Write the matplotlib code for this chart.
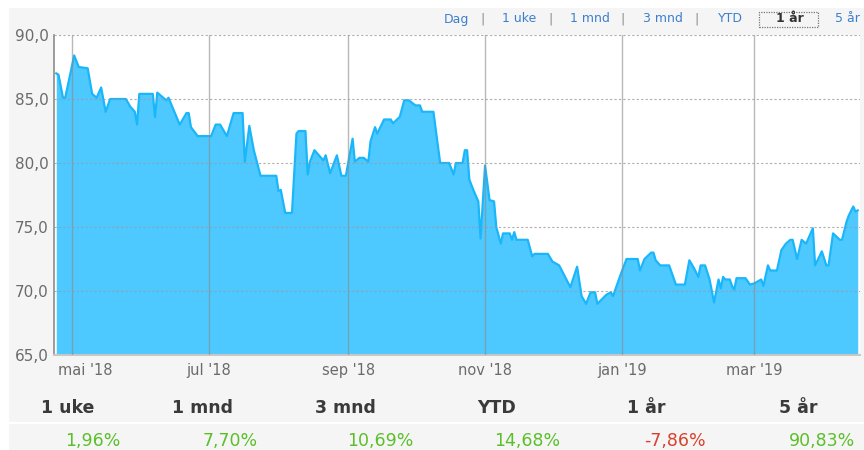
import matplotlib
matplotlib.use("Agg")
import matplotlib.pyplot as plt
import matplotlib.patches as mpatches
import matplotlib.transforms as mtransforms
import pandas as pd

# kurs, siste år (lest av bildet)
dates = [
    "2018-04-24", "2018-04-25", "2018-04-27", "2018-04-28",
    "2018-05-02", "2018-05-04", "2018-05-08", "2018-05-10", "2018-05-12", "2018-05-14",
    "2018-05-16", "2018-05-18", "2018-05-25", "2018-05-27", "2018-05-29", "2018-05-30",
    "2018-05-31",
    "2018-06-06", "2018-06-07", "2018-06-08", "2018-06-12", "2018-06-13", "2018-06-18",
    "2018-06-21", "2018-06-22", "2018-06-23", "2018-06-26",
    "2018-07-02", "2018-07-04", "2018-07-06", "2018-07-09", "2018-07-12", "2018-07-16",
    "2018-07-17", "2018-07-19", "2018-07-21", "2018-07-24", "2018-07-31",
    "2018-08-01", "2018-08-02", "2018-08-04", "2018-08-07", "2018-08-09", "2018-08-10",
    "2018-08-13", "2018-08-14", "2018-08-15", "2018-08-17", "2018-08-20", "2018-08-21",
    "2018-08-22", "2018-08-24", "2018-08-27", "2018-08-29", "2018-08-31",
    "2018-09-03", "2018-09-04", "2018-09-06", "2018-09-08", "2018-09-10", "2018-09-11",
    "2018-09-13", "2018-09-14", "2018-09-17", "2018-09-20", "2018-09-21", "2018-09-24",
    "2018-09-26", "2018-09-28",
    "2018-10-01", "2018-10-03", "2018-10-04", "2018-10-09", "2018-10-12", "2018-10-16",
    "2018-10-18", "2018-10-19", "2018-10-22", "2018-10-23", "2018-10-24", "2018-10-25",
    "2018-10-27", "2018-10-29", "2018-10-30",
    "2018-11-01", "2018-11-03", "2018-11-05", "2018-11-06", "2018-11-08", "2018-11-09",
    "2018-11-12", "2018-11-13", "2018-11-14", "2018-11-15", "2018-11-20", "2018-11-22",
    "2018-11-23", "2018-11-29",
    "2018-12-01", "2018-12-04", "2018-12-09", "2018-12-12", "2018-12-14", "2018-12-16",
    "2018-12-18", "2018-12-20", "2018-12-21", "2018-12-25", "2018-12-27", "2018-12-28",
    "2018-12-31",
    "2019-01-03", "2019-01-08", "2019-01-09", "2019-01-11", "2019-01-14", "2019-01-15",
    "2019-01-16", "2019-01-18", "2019-01-22", "2019-01-25", "2019-01-29", "2019-01-31",
    "2019-02-02", "2019-02-04", "2019-02-05", "2019-02-07", "2019-02-09", "2019-02-11",
    "2019-02-13", "2019-02-14", "2019-02-15", "2019-02-16", "2019-02-18", "2019-02-19",
    "2019-02-20", "2019-02-21", "2019-02-25", "2019-02-27",
    "2019-03-01", "2019-03-04", "2019-03-05", "2019-03-07", "2019-03-08", "2019-03-11",
    "2019-03-13", "2019-03-15", "2019-03-17", "2019-03-18", "2019-03-20", "2019-03-22",
    "2019-03-24", "2019-03-27", "2019-03-28", "2019-03-31",
    "2019-04-02", "2019-04-03", "2019-04-05", "2019-04-08", "2019-04-09", "2019-04-11",
    "2019-04-12", "2019-04-14", "2019-04-15", "2019-04-16",
]
prices = [
    87.0, 86.9, 85.1, 85.1,
    88.4, 87.5, 87.4, 85.4, 85.1, 85.9,
    84.0, 85.0, 85.0, 84.4, 84.0, 83.0,
    85.4,
    85.4, 83.6, 85.5, 84.9, 85.1, 83.0,
    83.9, 83.9, 82.8, 82.1,
    82.1, 83.0, 83.0, 82.1, 83.9, 83.9,
    80.1, 82.9, 81.0, 79.0, 79.0,
    77.8, 77.9, 76.1, 76.1, 82.3, 82.5,
    82.5, 79.1, 80.1, 81.0, 80.4, 80.2,
    80.6, 79.2, 80.6, 79.0, 79.0,
    81.9, 80.1, 80.4, 80.4, 80.1, 81.7,
    82.8, 82.3, 83.4, 83.4, 83.1, 83.6,
    84.9, 84.9,
    84.5, 84.5, 84.0, 84.0, 80.0, 80.0,
    79.1, 80.0, 80.0, 81.0, 81.0, 78.7,
    77.8, 77.0, 74.1,
    79.8, 77.1, 77.0, 75.0, 73.7, 74.5,
    74.5, 74.0, 74.6, 74.0, 74.0, 72.7,
    72.9, 72.9,
    72.3, 72.0, 70.3, 71.9, 69.6, 69.0,
    69.9, 69.9, 69.0, 69.7, 69.9, 69.6,
    71.1,
    72.5, 72.5, 71.6, 72.5, 73.0, 73.0,
    72.4, 72.0, 72.0, 70.5, 70.5, 72.4,
    71.8, 71.1, 72.0, 72.0, 70.9, 69.1,
    70.9, 70.2, 71.1, 70.9, 70.9, 70.4,
    70.1, 71.0, 71.0, 70.5,
    70.6, 70.9, 70.4, 72.0, 71.6, 71.6,
    73.2, 73.7, 74.0, 74.0, 72.5, 74.0,
    73.7, 74.9, 72.0, 73.1,
    72.0, 72.0, 74.5, 74.0, 74.0, 75.4,
    75.9, 76.6, 76.2, 76.3,
]
assert len(dates) == len(prices)

tick_dates = ["2018-05-01", "2018-07-01", "2018-09-01", "2018-11-01", "2019-01-01", "2019-03-01"]
tick_labels = ["mai '18", "jul '18", "sep '18", "nov '18", "jan '19", "mar '19"]
y_ticks = [65, 70, 75, 80, 85, 90]

buttons = ["Dag", "1 uke", "1 mnd", "3 mnd", "YTD", "1 år", "5 år"]
selected = "1 år"
periods = ["1 uke", "1 mnd", "3 mnd", "YTD", "1 år", "5 år"]
returns = [1.96, 7.70, 10.69, 14.68, -7.86, 90.83]

W, H = 864, 450


def px(x, y):
    # piksel -> figurkoordinater
    return x / W, 1 - y / H


x = pd.to_datetime(dates)
fig = plt.figure(figsize=(8.64, 4.5), dpi=100)
fig.patch.set_facecolor("white")
fig.patches.append(mpatches.Rectangle(px(9, H), 1, (H - 8) / H, transform=fig.transFigure,
                                      facecolor="#f5f5f5", edgecolor="none", zorder=-5))

ax = fig.add_axes([54 / W, 1 - 355 / H, (860 - 54) / W, 320 / H])
ax.set_zorder(2)
ax.set_facecolor("white")
ax.fill_between(x, prices, 65, color="#4dc9ff", linewidth=0, zorder=1)
ax.plot(x, prices, color="#1ab6fb", linewidth=1.6, zorder=2)

ax.set_xlim(pd.Timestamp("2018-04-23"), pd.Timestamp("2019-04-17"))
ax.set_ylim(65, 90)
ax.set_yticks(y_ticks)
ax.set_yticklabels([f"{v:.1f}".replace(".", ",") for v in y_ticks])
ax.set_xticks(pd.to_datetime(tick_dates))
ax.set_xticklabels(tick_labels)
ax.tick_params(axis="both", length=0, colors="#6b6b6b")
ax.tick_params(axis="y", pad=4, labelsize=11)
ax.tick_params(axis="x", pad=6, labelsize=10.5)

# første etikett holdes innenfor plottet
first = ax.get_xticklabels()[0]
first.set_transform(first.get_transform() + mtransforms.ScaledTranslation(13 / 100, 0, fig.dpi_scale_trans))

ax.grid(axis="y", color="#9a9a9a", linestyle=(0, (2, 2)), linewidth=0.8, alpha=0.8, zorder=3)
ax.grid(axis="x", color="#8a8a8a", linestyle="-", linewidth=1.0, alpha=0.6, zorder=3)
ax.set_axisbelow(False)

for s in ["top", "right"]:
    ax.spines[s].set_visible(False)
ax.spines["left"].set_color("#8c8c8c")
ax.spines["left"].set_linewidth(1.2)
ax.spines["bottom"].set_color("#c8c8c8")
ax.spines["bottom"].set_linewidth(1.5)

# periodeknapper
btn_x = [456, 519, 590, 663, 730, 790, 847]
sep_x = [483, 551, 623, 697]
for b, bx in zip(buttons, btn_x):
    if b == selected:
        fig.text(*px(bx, 19), b, ha="center", va="center", fontsize=9, color="#333333",
                 fontweight="bold")
        fig.patches.append(mpatches.Rectangle(px(759, 27), 59 / W, 15 / H, transform=fig.transFigure,
                                              facecolor="none", edgecolor="#777777",
                                              linewidth=0.9, linestyle=(0, (1, 1))))
    else:
        fig.text(*px(bx, 19), b, ha="center", va="center", fontsize=9, color="#3d7fcf")
for sx in sep_x:
    fig.text(*px(sx, 19), "|", ha="center", va="center", fontsize=9, color="#888888")

# avkastningstabell
head_x = [68, 202, 345, 497, 646, 798]
val_x = [93, 230, 380, 527, 675, 822]
for p, hx in zip(periods, head_x):
    fig.text(*px(hx, 408), p, ha="center", va="center", fontsize=12.5, color="#3a3a3a",
             fontweight="bold")
fig.add_artist(plt.Line2D([9 / W, 1], [1 - 423 / H] * 2, transform=fig.transFigure,
                          color="white", linewidth=1.5))
for r, vx in zip(returns, val_x):
    col = "#5cbf2a" if r >= 0 else "#d9412c"
    fig.text(*px(vx, 441), f"{r:.2f}%".replace(".", ","), ha="center", va="center",
             fontsize=12.5, color=col)

fig.savefig("out.png", dpi=100)
